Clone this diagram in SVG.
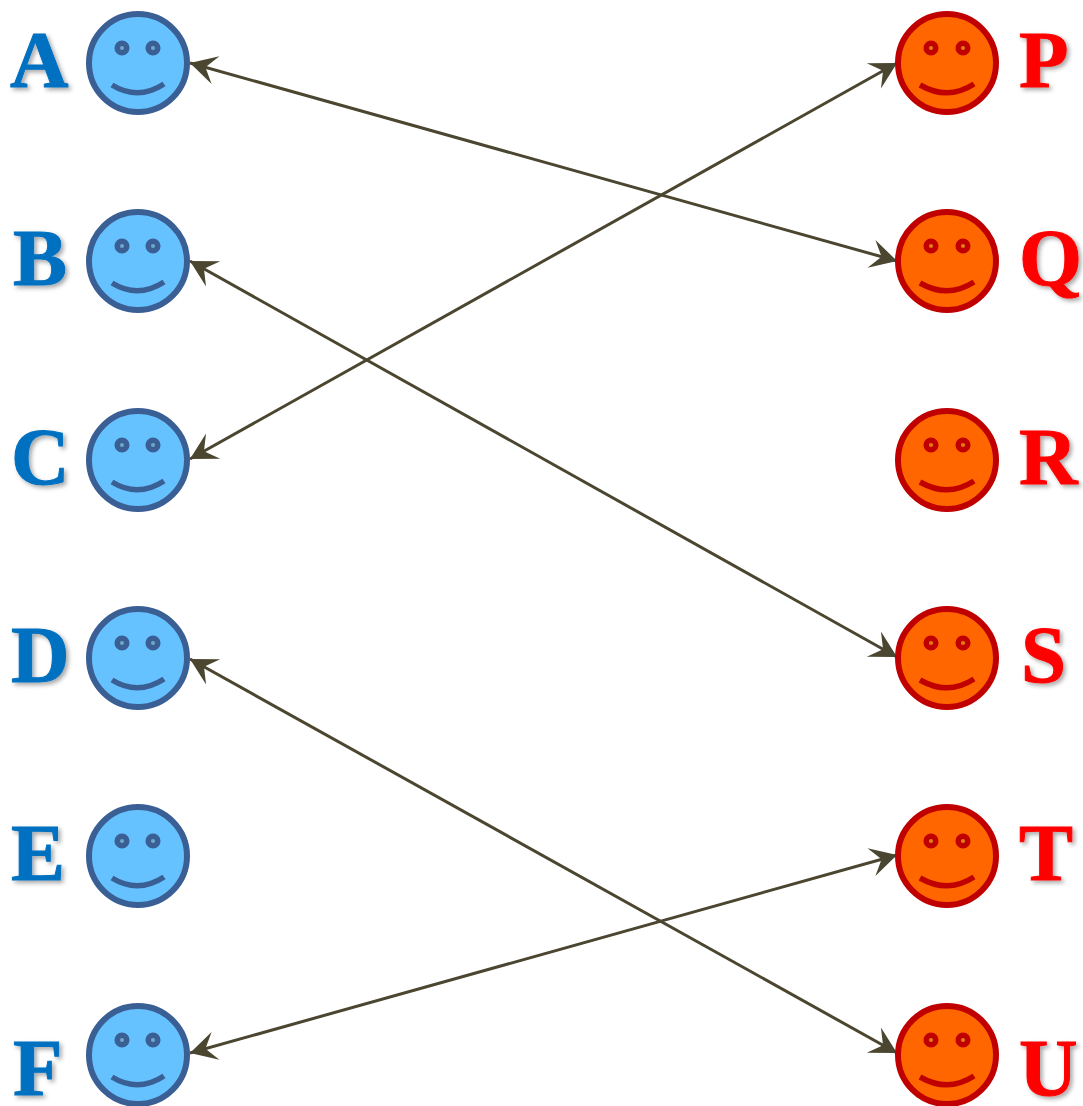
<svg xmlns="http://www.w3.org/2000/svg" width="1083" height="1106" viewBox="0 0 1083 1106">
<style>
.bg{fill:#fff}
.l{font:bold 81px "Liberation Serif","Times New Roman",serif;stroke-width:1;filter:url(#sh)}
.lb{fill:#0070c0;stroke:#0070c0}.lr{fill:#f00;stroke:#f00}
.c{stroke-width:6}
.m{fill:none;stroke-width:5.500}
.e{stroke-width:5.500}
.b .c{fill:#66c2ff;stroke:#3a5f94}.b .e{fill:#6fa8c8;stroke:#3a5f94}.b .m{stroke:#3a5f94}
.r .c{fill:#f60;stroke:#c00000}.r .e{fill:#e08010;stroke:#c00000}.r .m{stroke:#c00000}
.a{stroke:#4a4630;stroke-width:3;fill:none;marker-start:url(#hs);marker-end:url(#he)}
</style>
<defs>
<filter id="sh" x="-20%" y="-20%" width="150%" height="150%"><feDropShadow dx="2.5" dy="2.5" stdDeviation="2" flood-color="#000" flood-opacity=".35"/></filter>
<marker id="he" markerUnits="userSpaceOnUse" markerWidth="32" markerHeight="32" refX="28" refY="16" orient="auto"><path d="M28 16L1.500 1.500L12 16L1.500 30.500Z" fill="#4a4630"/></marker>
<marker id="hs" markerUnits="userSpaceOnUse" markerWidth="32" markerHeight="32" refX="4" refY="16" orient="auto"><path d="M4 16L30.500 1.500L20 16L30.500 30.500Z" fill="#4a4630"/></marker>
<g id="fb" class="b"><circle class="c" cx="0" cy="0" r="49"/><circle class="e" cx="-16" cy="-15" r="4.800"/><circle class="e" cx="15" cy="-15" r="4.800"/><path class="m" d="M-26 22Q0 38 26 21"/></g>
<g id="fr" class="r"><circle class="c" cx="0" cy="0" r="49"/><circle class="e" cx="-16" cy="-15" r="4.800"/><circle class="e" cx="16" cy="-15" r="4.800"/><path class="m" d="M-27 22Q1 38 27 21"/></g>
</defs>
<rect class="bg" width="1083" height="1106"/>
<g id="connectors">
<path class="a" d="M190 63L897 261"/>
<path class="a" d="M897 63L190 459"/>
<path class="a" d="M190 261L897 657"/>
<path class="a" d="M190 659L897 1053"/>
<path class="a" d="M190 1053L897 855"/>
</g>
<g id="A"><use href="#fb" x="138" y="63"/><text class="l lb" x="10" y="87">A</text></g>
<g id="B"><use href="#fb" x="138" y="261"/><text class="l lb" x="13" y="285">B</text></g>
<g id="C"><use href="#fb" x="138" y="460"/><text class="l lb" x="11" y="484">C</text></g>
<g id="D"><use href="#fb" x="138" y="658"/><text class="l lb" x="11" y="682">D</text></g>
<g id="E"><use href="#fb" x="138" y="856"/><text class="l lb" x="11" y="880">E</text></g>
<g id="F"><use href="#fb" x="138" y="1055"/><text class="l lb" x="13" y="1095">F</text></g>
<g id="P"><use href="#fr" x="947" y="63"/><text class="l lr" x="1019" y="87">P</text></g>
<g id="Q"><use href="#fr" x="947" y="261"/><text class="l lr" x="1019" y="285">Q</text></g>
<g id="R"><use href="#fr" x="947" y="460"/><text class="l lr" x="1019" y="484">R</text></g>
<g id="S"><use href="#fr" x="947" y="658"/><text class="l lr" x="1021" y="682">S</text></g>
<g id="T"><use href="#fr" x="947" y="856"/><text class="l lr" x="1019" y="880">T</text></g>
<g id="U"><use href="#fr" x="947" y="1055"/><text class="l lr" x="1019" y="1095">U</text></g>
</svg>
